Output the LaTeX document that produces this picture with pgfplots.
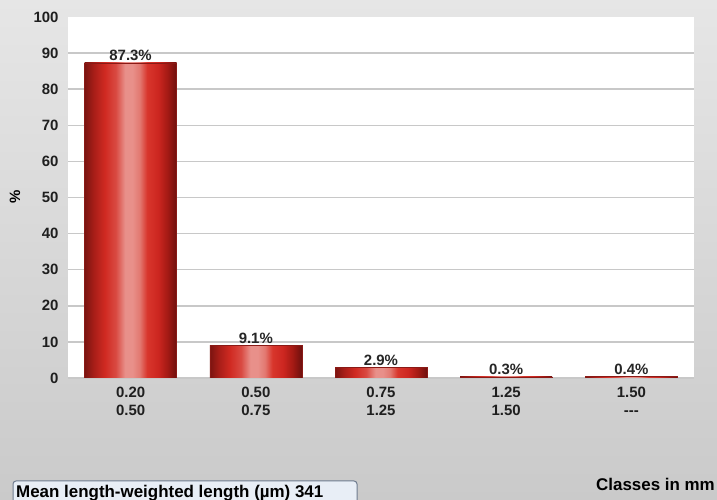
\documentclass[border=0pt]{standalone}
\usepackage{pgfplots}
\pgfplotsset{compat=1.18}
\usepackage{fontspec}
\setmainfont{Liberation Sans}
\definecolor{gridc}{HTML}{C8C8C8}
\definecolor{bgtop}{HTML}{E6E6E6}
\definecolor{bgbot}{HTML}{CACACA}
\definecolor{boxfill}{HTML}{E8EEF6}
\definecolor{boxdraw}{HTML}{6E7B8F}
\definecolor{bardraw}{HTML}{8A1A16}
\definecolor{c0}{HTML}{7A1410}
\definecolor{c1}{HTML}{A81E18}
\definecolor{c2}{HTML}{D02A22}
\definecolor{c3}{HTML}{D94A42}
\definecolor{c4}{HTML}{E8908A}
\definecolor{c5}{HTML}{E27870}
\definecolor{c6}{HTML}{D8362C}
\definecolor{c7}{HTML}{CC2620}
\definecolor{c8}{HTML}{A41A14}
\definecolor{c9}{HTML}{6E100E}
\pgfdeclarehorizontalshading{cyl}{100bp}{color(0bp)=(c0); color(25bp)=(c0); color(30bp)=(c1); color(36bp)=(c2); color(42bp)=(c3); color(47bp)=(c4); color(51bp)=(c4); color(55bp)=(c5); color(59bp)=(c6); color(65bp)=(c7); color(70bp)=(c8); color(75bp)=(c9); color(100bp)=(c9)}
\pgfplotsset{cylbar/.style={shade, shading=cyl, draw=bardraw, line width=0.5bp, bar shift=0pt}}
\begin{document}
\begin{tikzpicture}
\useasboundingbox (0,0) rectangle (717bp,500bp);
\shade[top color=bgtop, bottom color=bgbot] (0,0) rectangle (717bp,500bp);
\begin{axis}[
  at={(68bp,122bp)}, anchor=south west,
  scale only axis, width=626bp, height=361bp,
  xmin=-0.5, xmax=4.5, ymin=0, ymax=100,
  axis background/.style={fill=white},
  axis line style={draw=none},
  major tick length=0pt,
  ytick={0,10,...,90},
  extra y ticks={100},
  extra y tick style={grid=none},
  ymajorgrids,
  grid style={gridc, line width=1.5bp},
  /pgf/number format/assume math mode=true,
  yticklabel style={font=\fontsize{15}{18}\selectfont\bfseries, anchor=east, xshift=-6bp, text=black!88},
  xtick={0,1,2,3,4},
  xticklabels={{0.20\\0.50},{0.50\\0.75},{0.75\\1.25},{1.25\\1.50},{1.50\\-{}-{}-}},
  xticklabel style={font=\fontsize{15}{18}\selectfont\bfseries, align=center, yshift=-6bp, text=black!88},
  ybar, bar width=92bp,
  nodes near coords={\pgfmathprintnumber[fixed,fixed zerofill,precision=1]{\pgfplotspointmeta}\%},
  nodes near coords style={font=\fontsize{15}{18}\selectfont\bfseries, inner sep=1.5bp, text=black!85},
]
\addplot[cylbar] coordinates {(0,87.3)};
\addplot[cylbar] coordinates {(1,9.1)};
\addplot[cylbar] coordinates {(2,2.9)};
\addplot[cylbar] coordinates {(3,0.3)};
\addplot[cylbar] coordinates {(4,0.4)};
\end{axis}
\node[rotate=90, font=\fontsize{15}{18}\selectfont\bfseries] at (15bp,303bp) {\%};
\node[anchor=east, font=\fontsize{17}{20}\selectfont\bfseries, inner sep=0pt] at (715bp,16bp) {Classes in mm};
\draw[rounded corners=3bp, fill=boxfill, draw=boxdraw, line width=1bp] (13bp,-6bp) rectangle (357bp,19bp);
\node[anchor=base west, font=\fontsize{17}{20}\selectfont\bfseries, inner sep=0pt] at (16bp,3bp) {Mean length-weighted length (µm) 341};
\end{tikzpicture}
\end{document}
